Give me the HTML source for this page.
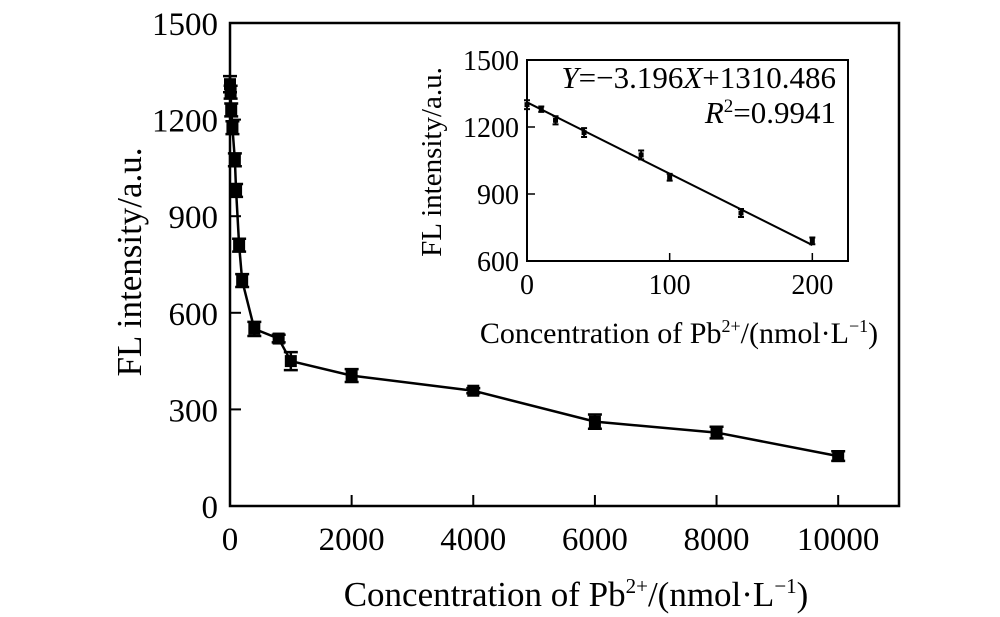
<!DOCTYPE html>
<html><head><meta charset="utf-8"><style>
html,body{margin:0;padding:0;background:#fff;}
svg{display:block;font-family:"Liberation Serif",serif;}
</style></head><body>
<svg id="c" width="1000" height="617" viewBox="0 0 1000 617"></svg>
<script>
const mainX=[0,10,20,40,80,100,150,200,400,800,1000,2000,4000,6000,8000,10000];
const mainY=[1310,1285,1230,1175,1075,980,810,700,550,520,450,405,358,262,228,155];
const mainErr=[25,20,20,20,20,20,20,20,22,12,28,20,8,22,18,15];
const mainXTicks=[0,2000,4000,6000,8000,10000];
const mainYTicks=[0,300,600,900,1200,1500];
const insX=[0,10,20,40,80,100,150,200];
const insY=[1300,1280,1230,1175,1075,975,815,690];
const insErr=[20,12,18,20,20,15,18,15];
const insXTicks=[0,100,200];
const insYTicks=[600,900,1200,1500];
const fitSlope=-3.196, fitIntercept=1310.486;
const NS='http://www.w3.org/2000/svg';
const svg=document.getElementById('c');
function el(t,a,p){const e=document.createElementNS(NS,t);for(const k in a)e.setAttribute(k,a[k]);(p||svg).appendChild(e);return e;}
function axes(o){
 const sx=v=>o.l+(v-o.x0)/(o.x1-o.x0)*(o.r-o.l);
 const sy=v=>o.b-(v-o.y0)/(o.y1-o.y0)*(o.b-o.t);
 return {sx,sy};
}
// main
const M={l:230,r:899,t:23,b:506,x0:0,x1:11000,y0:0,y1:1500};
const {sx,sy}=axes(M);
const g=el('g',{});

const fr=el('rect',{x:M.l,y:M.t,width:M.r-M.l,height:M.b-M.t,fill:'none',stroke:'#000','stroke-width':2.5},g);

mainXTicks.forEach(v=>{const x=sx(v);
 el('line',{x1:x,x2:x,y1:M.b,y2:M.b-11,stroke:'#000','stroke-width':2},g);
 const t=el('text',{x:x,y:M.b+44,'font-size':33,'text-anchor':'middle'},g);t.textContent=v;
 });
mainYTicks.forEach(v=>{const y=sy(v);
 el('line',{x1:M.l,x2:M.l+11,y1:y,y2:y,stroke:'#000','stroke-width':2},g);
 const t=el('text',{x:M.l-12,y:y+12,'font-size':33,'text-anchor':'end'},g);t.textContent=v;
 });
const ml=el('polyline',{points:mainX.map((v,i)=>sx(v)+','+sy(mainY[i])).join(' '),fill:'none',stroke:'#000','stroke-width':2.5},g);

mainX.forEach((v,i)=>{const x=sx(v),y=sy(mainY[i]),e1=sy(mainY[i]+mainErr[i]),e2=sy(mainY[i]-mainErr[i]);
 const eb=el('path',{d:`M${x},${e1}V${e2}M${x-7},${e1}H${x+7}M${x-7},${e2}H${x+7}`,stroke:'#000','stroke-width':2.5,fill:'none'},g);
 
 const m=el('rect',{x:x-6,y:y-6,width:12,height:12,fill:'#000'},g);
 });
const xt=el('text',{x:576,y:606,'font-size':35,'text-anchor':'middle'});
xt.innerHTML='Concentration of Pb<tspan dy="-13" font-size="21">2+</tspan><tspan dy="13">/(nmol·L</tspan><tspan dy="-13" font-size="21">−1</tspan><tspan dy="13">)</tspan>';

const yt=el('text',{x:0,y:0,'font-size':35,'text-anchor':'middle',transform:'translate(141,262) rotate(-90)'});
yt.textContent='FL intensity/a.u.';

// inset
const I={l:527,r:848,t:60,b:261,x0:0,x1:225,y0:600,y1:1500};
const A=axes(I);
const gi=el('g',{});

const fi=el('rect',{x:I.l,y:I.t,width:I.r-I.l,height:I.b-I.t,fill:'none',stroke:'#000','stroke-width':2},gi);

insXTicks.forEach(v=>{const x=A.sx(v);
 el('line',{x1:x,x2:x,y1:I.b,y2:I.b-8,stroke:'#000','stroke-width':1.5},gi);
 const t=el('text',{x:x,y:I.b+33,'font-size':28,'text-anchor':'middle'},gi);t.textContent=v;
 });
insYTicks.forEach(v=>{const y=A.sy(v);
 el('line',{x1:I.l,x2:I.l+8,y1:y,y2:y,stroke:'#000','stroke-width':1.5},gi);
 const t=el('text',{x:I.l-8,y:y+10,'font-size':28,'text-anchor':'end'},gi);t.textContent=v;
 });
const fx0=0,fx1=200;
const fl=el('line',{x1:A.sx(fx0),y1:A.sy(fitIntercept+fitSlope*fx0),x2:A.sx(fx1),y2:A.sy(fitIntercept+fitSlope*fx1),stroke:'#000','stroke-width':2},gi);

insX.forEach((v,i)=>{const x=A.sx(v),y=A.sy(insY[i]),e1=A.sy(insY[i]+insErr[i]),e2=A.sy(insY[i]-insErr[i]);
 const eb=el('path',{d:`M${x},${e1}V${e2}M${x-3},${e1}H${x+3}M${x-3},${e2}H${x+3}`,stroke:'#000','stroke-width':2,fill:'none'},gi);
 
 const m=el('rect',{x:x-2.5,y:y-2.5,width:5,height:5,fill:'#000'},gi);
 });
const eq=el('text',{x:836,y:88,'font-size':31,'text-anchor':'end'},gi);
eq.innerHTML='<tspan font-style="italic">Y</tspan>=−3.196<tspan font-style="italic">X</tspan>+1310.486';

const r2=el('text',{x:836,y:123,'font-size':31,'text-anchor':'end'},gi);
r2.innerHTML='<tspan font-style="italic">R</tspan><tspan dy="-11" font-size="19">2</tspan><tspan dy="11">=0.9941</tspan>';

const ixt=el('text',{x:679,y:343,'font-size':30,'text-anchor':'middle'},gi);
ixt.innerHTML='Concentration of Pb<tspan dy="-11" font-size="18">2+</tspan><tspan dy="11">/(nmol·L</tspan><tspan dy="-11" font-size="18">−1</tspan><tspan dy="11">)</tspan>';

const iyt=el('text',{x:0,y:0,'font-size':29,'text-anchor':'middle',transform:'translate(441,162) rotate(-90)'},gi);
iyt.textContent='FL intensity/a.u.';

</script>
</body></html>
